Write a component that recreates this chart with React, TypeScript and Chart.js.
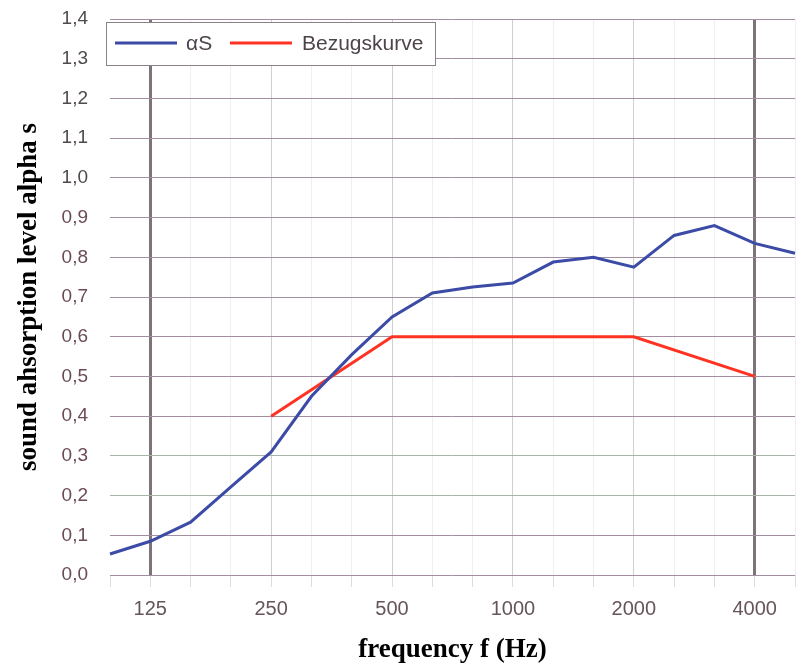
import React, { useEffect, useRef } from "react";
import { Chart, registerables } from "chart.js";

Chart.register(...registerables);

const frequencies = ["100", "125", "160", "200", "250", "315", "400", "500", "630", "800", "1000", "1250", "1600", "2000", "2500", "3150", "4000", "5000"];
const shownLabels = ["125", "250", "500", "1000", "2000", "4000"];
const octaveLines = ["250", "500", "1000", "2000"];
const rangeLines = ["125", "4000"];
const alphaS = [0.053, 0.085, 0.133, 0.222, 0.31, 0.45, 0.555, 0.65, 0.71, 0.725, 0.735, 0.788, 0.8, 0.775, 0.855, 0.88, 0.835, 0.81];
const bezugskurve = [null, null, null, null, 0.4, null, null, 0.6, null, null, 0.6, null, null, 0.6, null, null, 0.5, null];
const seriesLabels = ["αS", "Bezugskurve"];
const seriesColors = ["#3b4ba6", "#ff3322"];

const legendBoxPlugin = {
  id: "legendBox",
  afterDraw(chart: any) {
    const ctx = chart.ctx;
    const x0 = 106, y0 = 22, w = 329, h = 43;
    ctx.save();
    ctx.fillStyle = "#ffffff";
    ctx.strokeStyle = "#8a8088";
    ctx.lineWidth = 1;
    ctx.fillRect(x0, y0, w, h);
    ctx.strokeRect(x0 + 0.5, y0 + 0.5, w, h);
    ctx.font = "21px 'Liberation Sans', Arial, sans-serif";
    ctx.textBaseline = "middle";
    const items = [
      { lx: 115, tx: 186 },
      { lx: 230, tx: 302 },
    ];
    chart.data.datasets.forEach((ds: any, i: number) => {
      const it = items[i];
      ctx.strokeStyle = ds.borderColor;
      ctx.lineWidth = 3;
      ctx.beginPath();
      ctx.moveTo(it.lx, y0 + 21);
      ctx.lineTo(it.lx + 62, y0 + 21);
      ctx.stroke();
      ctx.fillStyle = "#4d444b";
      ctx.fillText(ds.label, it.tx, y0 + 22);
    });
    ctx.restore();
  },
};

export default function App() {
  const canvasRef = useRef<HTMLCanvasElement | null>(null);

  useEffect(() => {
    if (!canvasRef.current) return;
    const chart = new Chart(canvasRef.current, {
      type: "line",
      data: {
        labels: frequencies,
        datasets: [
          {
            label: seriesLabels[0],
            data: alphaS,
            borderColor: seriesColors[0],
            backgroundColor: seriesColors[0],
            borderWidth: 3,
            pointRadius: 0,
            tension: 0,
          },
          {
            label: seriesLabels[1],
            data: bezugskurve,
            borderColor: seriesColors[1],
            backgroundColor: seriesColors[1],
            borderWidth: 3,
            pointRadius: 0,
            tension: 0,
            spanGaps: true,
          },
        ],
      },
      options: {
        animation: false,
        responsive: true,
        maintainAspectRatio: false,
        layout: { padding: { top: 19, right: 2, left: 0, bottom: 0 } },
        plugins: {
          legend: { display: false },
          tooltip: { enabled: false },
        },
        scales: {
          x: {
            type: "category",
            offset: false,
            border: { display: false },
            grid: {
              color: (c: any) => {
                const lab = frequencies[c.index];
                if (c.index === 0) return "rgba(0,0,0,0)";
                if (rangeLines.includes(lab)) return "#7d747b";
                if (octaveLines.includes(lab)) return "#cfcfcf";
                return "#efefef";
              },
              lineWidth: (c: any) => (rangeLines.includes(frequencies[c.index]) ? 3 : 1),
              tickColor: "#dcdcdc",
              tickLength: 12,
              tickWidth: 1,
            },
            ticks: {
              autoSkip: false,
              maxRotation: 0,
              minRotation: 0,
              padding: 0,
              color: "#66545c",
              font: { family: "'Liberation Sans', Arial, sans-serif", size: 20, lineHeight: 2.2 },
              callback: (_v: any, i: number) => (shownLabels.includes(frequencies[i]) ? frequencies[i] : ""),
            },
            title: {
              display: true,
              text: "frequency f (Hz)",
              color: "#000000",
              font: { family: "'Liberation Serif', 'Times New Roman', serif", size: 27, weight: "bold", lineHeight: 1 },
              padding: { top: 2, bottom: 0 },
            },
            afterFit: (s: any) => {
              s.height = 89;
            },
          },
          y: {
            min: 0,
            max: 1.4,
            border: { display: false },
            grid: {
              color: (c: any) => {
                const v = Math.round((c.tick?.value ?? 0) * 10);
                if (v === 2 || v === 3) return "#a8b4a8";
                return "#a28ea0";
              },
              lineWidth: 1,
              drawTicks: true,
              tickLength: 20,
              tickColor: "rgba(0,0,0,0)",
            },
            ticks: {
              stepSize: 0.1,
              padding: 2,
              color: (c: any) => ((c.tick?.value ?? 0) >= 0.95 ? "#4f4a4d" : "#6b4b55"),
              font: { family: "'Liberation Sans', Arial, sans-serif", size: 19 },
              callback: (v: any) => Number(v).toFixed(1).replace(".", ","),
            },
            title: {
              display: true,
              text: "sound ahsorption level alpha s",
              color: "#000000",
              font: { family: "'Liberation Serif', 'Times New Roman', serif", size: 27, weight: "bold", lineHeight: 1 },
              padding: { top: 16, bottom: 0 },
            },
            afterFit: (s: any) => {
              s.width = 110;
            },
          },
        },
      },
      plugins: [legendBoxPlugin],
    });
    return () => chart.destroy();
  }, []);

  return (
    <div style={{ position: "fixed", left: 0, top: 0, width: 797, height: 664, background: "#ffffff" }}>
      <canvas ref={canvasRef} />
    </div>
  );
}
